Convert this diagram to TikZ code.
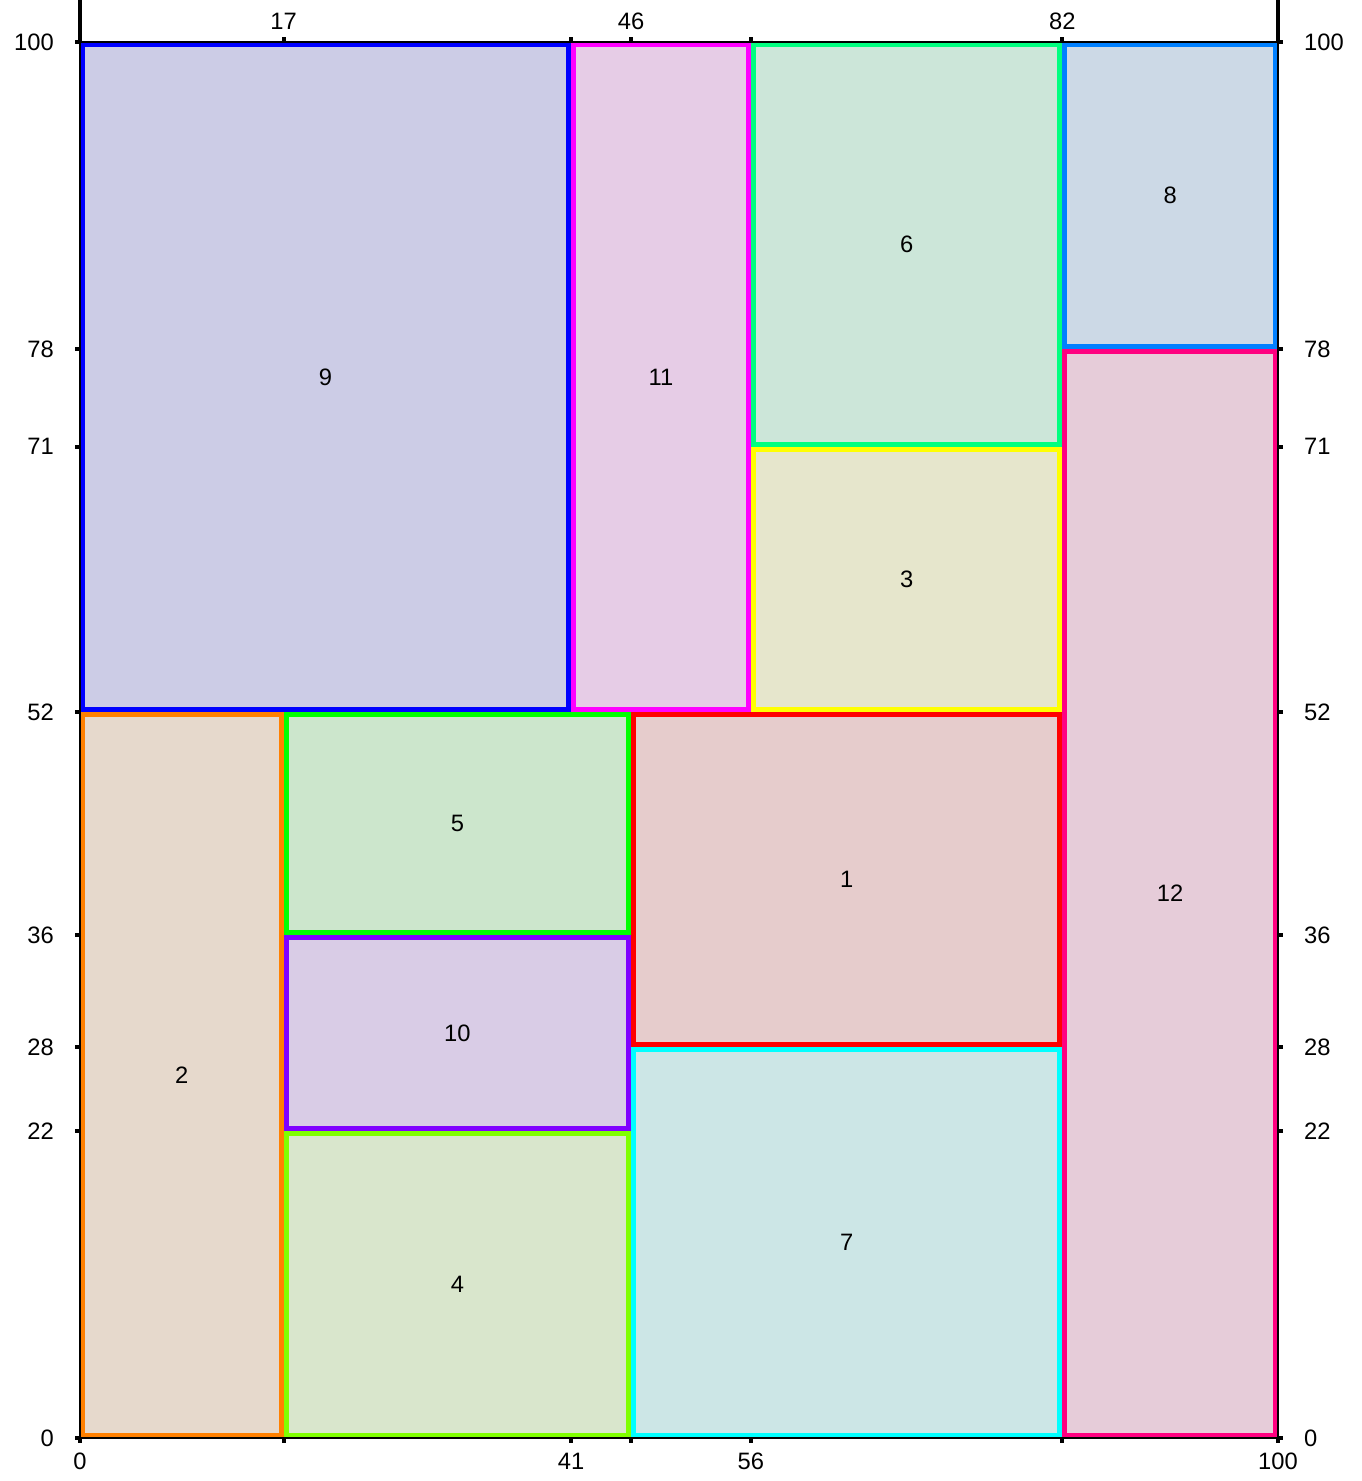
\documentclass[tikz,border=0pt]{standalone}
\usepackage{fontspec}
\setsansfont{Liberation Sans}
\usepackage{tikz}
\usetikzlibrary{positioning}
\colorlet{cellbase}{black!11}
\definecolor{blueb}{RGB}{0,0,255}
\definecolor{magentab}{RGB}{255,0,255}
\definecolor{springgr}{RGB}{0,255,128}
\definecolor{azure}{RGB}{0,128,255}
\definecolor{yellowb}{RGB}{255,255,0}
\definecolor{rose}{RGB}{255,0,128}
\definecolor{orangeb}{RGB}{255,128,0}
\definecolor{greenb}{RGB}{0,255,0}
\definecolor{violetb}{RGB}{128,0,255}
\definecolor{chartr}{RGB}{128,255,0}
\definecolor{redb}{RGB}{255,0,0}
\definecolor{cyanb}{RGB}{0,255,255}
\begin{document}
\begin{tikzpicture}[x=0.2396cm,y=0.2792cm,font=\sffamily\fontsize{13.5}{15}\selectfont,
 cellbox/.style={line width=0.1cm},
 tickmark/.style={line width=0.08cm},
 frameline/.style={line width=0.05cm}]
\useasboundingbox (-1.6cm,-0.86cm) rectangle (25.62cm,28.76cm);
\foreach \n/\xa/\ya/\xb/\yb/\col in {9/0/52/41/100/blueb,11/41/52/56/100/magentab,6/56/71/82/100/springgr,8/82/78/100/100/azure,3/56/52/82/71/yellowb,12/82/0/100/78/rose,2/0/0/17/52/orangeb,5/17/36/46/52/greenb,10/17/22/46/36/violetb,4/17/0/46/22/chartr,1/46/28/82/52/redb,7/46/0/82/28/cyanb}
 {\draw[cellbox,draw=\col,fill=\col!10!cellbase]([xshift=0.05cm,yshift=0.05cm]\xa,\ya) rectangle ([xshift=-0.05cm,yshift=-0.05cm]\xb,\yb);
  \node(cell\n) at ({(\xa+\xb)/2},{(\ya+\yb)/2}){\n};}
\draw[frameline](0,0) rectangle (100,100);
% ticks and labels
\foreach \y in {0,22,28,36,52,71,78,100}
 {\draw[tickmark](0,\y)--++(-0.1cm,0);\draw[tickmark](100,\y)--++(0.1cm,0);
  \node[anchor=east](l\y) at ([xshift=-0.4cm]0,\y){\y};
  \node[anchor=west](r\y) at ([xshift=0.4cm]100,\y){\y};}
\foreach \x in {0,17,41,46,56,82,100}
 {\draw[tickmark](\x,0)--++(0,-0.1cm);\draw[tickmark](\x,100)--++(0,0.1cm);}
\foreach \x in {0,41,56,100}
 \node(b\x) at ([yshift=-0.46cm]\x,0){\x};
\foreach \x in {17,46,82}
 \node(t\x) at ([yshift=0.42cm]\x,100){\x};
\draw[tickmark](0,100)--++(0,0.84cm);
\draw[tickmark](100,100)--++(0,0.84cm);
\end{tikzpicture}
\end{document}
